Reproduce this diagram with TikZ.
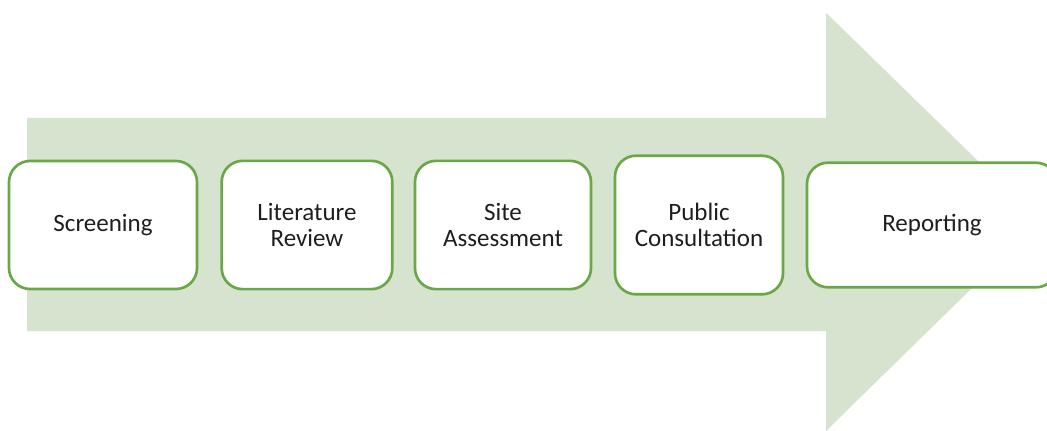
\documentclass[tikz,border=0pt]{standalone}
\usepackage{fontspec}
\setmainfont{Carlito}
\definecolor{arrowgreen}{RGB}{213,227,207}
\definecolor{stageline}{RGB}{106,168,71}
\definecolor{stagetext}{RGB}{30,30,30}
\begin{document}
\begin{tikzpicture}[
		x={(0.75pt,0pt)},
		y={(0pt,-0.75pt)},
		stage/.style={draw=stageline,line width=2pt,fill=white,rounded corners=15.75pt,
			align=center,text=stagetext,inner sep=0pt,
			font=\fontsize{18.75pt}{20pt}\selectfont},
	]
		\useasboundingbox (0,0) rectangle (1047,431);
		\begin{scope}
		\clip (0,0) rectangle (1047,431);
		% the big process arrow
		\fill[arrowgreen] (27,118) -- (826,118) -- (826,12.7) -- (1040,221.5) -- (826,431) -- (826,331) -- (27,331) -- cycle;
		
		\foreach \n/\cx/\w/\h/\txt in {1/103/188/128/Screening, 2/307/170.6/128.3/{Literature\\Review}, 3/503/176/128.3/{Site\\Assessment}, 4/699/168/138.6/{Public\\Consultation}, 5/932/250/124.6/Reporting}{
			\node[stage,minimum width={\w*0.75pt},minimum height={\h*0.75pt}] (stage\n) at(\cx,225) {\txt};
		}
		\end{scope}
	\end{tikzpicture}
\end{document}
